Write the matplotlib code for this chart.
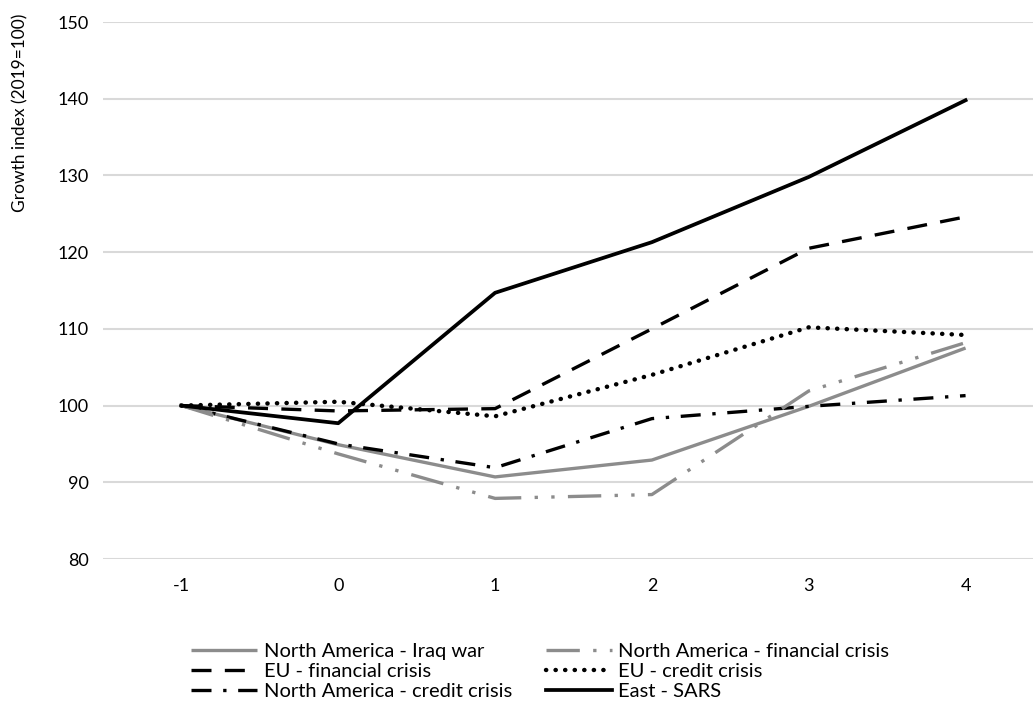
import matplotlib
matplotlib.use("Agg")
import matplotlib.pyplot as plt

plt.rcParams['font.family'] = ['Lato', 'DejaVu Sans']

years = [-1, 0, 1, 2, 3, 4]

na_iraq = [100, 94.9, 90.7, 92.9, 99.9, 107.5]
na_fin = [100, 93.7, 87.9, 88.4, 101.9, 108.2]
eu_fin = [100, 99.3, 99.6, 110.0, 120.5, 124.6]
eu_credit = [100, 100.5, 98.6, 104.0, 110.2, 109.2]
na_credit = [100, 95.0, 91.9, 98.3, 99.9, 101.3]
east_sars = [100, 97.7, 114.7, 121.3, 129.8, 139.8]

labels = ['North America - Iraq war', 'EU - financial crisis',
          'North America - credit crisis', 'North America - financial crisis',
          'EU - credit crisis', 'East - SARS']

gray = '#8c8c8c'
lw = 2.4

fig = plt.figure(figsize=(10.33, 7.03), dpi=100)
ax = fig.add_axes([103 / 1033, 1 - 559 / 703, 1 - 103 / 1033, (559 - 22) / 703])

l1, = ax.plot(years, na_iraq, color=gray, lw=lw, solid_capstyle='butt')
l2, = ax.plot(years, eu_fin, color='black', lw=lw, linestyle=(0, (6, 4)))
l3, = ax.plot(years, na_credit, color='black', lw=lw, linestyle=(0, (6, 3.5, 1, 3.5)))
l4, = ax.plot(years, na_fin, color=gray, lw=lw, linestyle=(0, (10, 4, 1, 4, 1, 4)))
l5, = ax.plot(years, eu_credit, color='black', lw=3.2, linestyle=(0, (0.05, 2.1)),
              dash_capstyle='round')
l6, = ax.plot(years, east_sars, color='black', lw=lw + 0.3)

ax.set_xlim(-1.5, 4.43)
ax.set_ylim(80, 150)
ax.set_yticks(range(80, 151, 10))
ax.set_xticks(years)
ax.set_xticklabels([str(y) for y in years])
ax.grid(axis='y', color='#d9d9d9', lw=1.5)
ax.set_axisbelow(True)
for s in ax.spines.values():
    s.set_visible(False)
ax.tick_params(length=0, labelsize=13, colors='black', pad=10)
ax.tick_params(axis='x', pad=14)
ax.set_ylabel('Growth index (2019=100)', fontsize=12.5, labelpad=8)
ax.yaxis.set_label_coords(-0.08, 0.83)

fig.legend([l1, l2, l3, l4, l5, l6], labels, ncol=2, loc='upper left',
           bbox_to_anchor=(191 / 1033, 1 - 643 / 703), frameon=False, fontsize=14.5,
           handlelength=3.3, handletextpad=0.3, columnspacing=1.7,
           labelspacing=0.15, borderaxespad=0.0, borderpad=0.0)

fig.savefig('out.png', dpi=100)
